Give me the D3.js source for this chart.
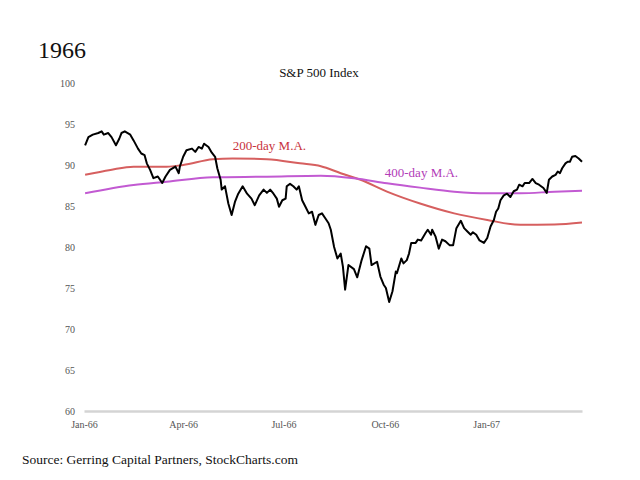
<!DOCTYPE html>
<html>
<head>
<meta charset="utf-8">
<script src="https://cdn.jsdelivr.net/npm/d3@7"></script>
<style>
  body { margin: 0; background: #fff; }
  text { font-family: "Liberation Serif", "DejaVu Serif", serif; }
</style>
</head>
<body>
<div id="chart"></div>
<script>
// S&P 500 daily close
var priceDates = ["1966-01-02","1966-01-05","1966-01-09","1966-01-14","1966-01-17","1966-01-19","1966-01-23","1966-01-26","1966-01-30",
  "1966-02-02","1966-02-04","1966-02-07","1966-02-12","1966-02-15","1966-02-19","1966-02-22","1966-02-25","1966-02-27",
  "1966-03-02","1966-03-05","1966-03-09","1966-03-13","1966-03-16","1966-03-20","1966-03-25","1966-03-28","1966-03-29",
  "1966-04-01","1966-04-04","1966-04-09","1966-04-12","1966-04-15","1966-04-18","1966-04-20","1966-04-24","1966-04-27","1966-04-30",
  "1966-05-02","1966-05-05","1966-05-06","1966-05-09","1966-05-12","1966-05-15","1966-05-18","1966-05-21","1966-05-25","1966-05-29",
  "1966-06-02","1966-06-05","1966-06-09","1966-06-13","1966-06-16","1966-06-19","1966-06-22","1966-06-25","1966-06-27","1966-06-30",
  "1966-07-03","1966-07-04","1966-07-07","1966-07-10","1966-07-13","1966-07-15","1966-07-18","1966-07-21","1966-07-24","1966-07-27","1966-07-30",
  "1966-08-02","1966-08-05","1966-08-08","1966-08-11","1966-08-13","1966-08-16","1966-08-19","1966-08-22","1966-08-24","1966-08-26","1966-08-29",
  "1966-09-03","1966-09-06","1966-09-10","1966-09-14","1966-09-17","1966-09-19","1966-09-24","1966-09-27","1966-09-30",
  "1966-10-02","1966-10-05","1966-10-08","1966-10-11","1966-10-12","1966-10-16","1966-10-18","1966-10-21","1966-10-23","1966-10-25","1966-10-29","1966-10-31",
  "1966-11-03","1966-11-07","1966-11-09","1966-11-12","1966-11-13","1966-11-16","1966-11-19","1966-11-22","1966-11-25","1966-11-29",
  "1966-12-02","1966-12-05","1966-12-09","1966-12-12","1966-12-15","1966-12-18","1966-12-20","1966-12-23","1966-12-26","1966-12-30",
  "1967-01-02","1967-01-05","1967-01-08","1967-01-10","1967-01-12","1967-01-14","1967-01-17","1967-01-20","1967-01-23","1967-01-26","1967-01-29","1967-01-31",
  "1967-02-03","1967-02-05","1967-02-09","1967-02-12","1967-02-15","1967-02-18","1967-02-22","1967-02-25","1967-02-27",
  "1967-03-02","1967-03-05","1967-03-07","1967-03-09","1967-03-11","1967-03-14","1967-03-16","1967-03-18","1967-03-20","1967-03-23","1967-03-26","1967-03-29"];
var priceValues = [92.4,93.4,93.7,93.9,94.1,93.7,93.9,93.4,92.4,
  93.2,93.9,94.1,93.7,93.0,92.0,91.4,91.2,90.2,
  89.4,88.4,88.6,87.8,88.6,89.4,89.8,89.0,89.8,
  91.0,91.8,92.0,91.6,92.2,92.0,92.6,92.2,91.5,91.0,
  89.6,88.2,87.0,87.4,85.3,83.9,85.5,86.5,87.4,86.5,
  85.9,85.1,86.3,87.0,86.6,87.0,86.5,85.9,84.9,85.7,
  85.9,87.4,87.7,87.4,87.0,87.4,85.7,84.9,84.1,84.3,82.7,
  83.9,84.1,83.5,82.9,82.1,80.0,78.6,79.2,77.6,74.8,77.8,
  77.3,76.3,78.4,80.1,79.8,77.8,78.2,76.4,75.4,
  75.0,73.3,74.6,77.0,76.8,78.6,78.0,78.4,79.2,80.5,80.5,80.9,
  80.8,81.7,82.1,81.5,82.1,81.3,79.8,80.9,80.7,80.2,
  80.2,82.3,83.2,82.3,81.9,81.5,81.8,81.5,80.8,80.5,
  81.1,82.5,83.3,84.3,84.7,85.7,86.3,86.5,86.1,86.8,87.0,87.6,
  87.4,87.8,87.8,88.3,87.8,87.6,87.2,86.6,88.2,
  88.6,88.8,89.2,89.0,89.6,90.2,90.4,90.4,91.0,91.1,90.8,90.4];

// 200-day moving average
var ma200Dates = ["1966-01-02","1966-01-25","1966-02-15","1966-03-17","1966-04-01","1966-04-28","1966-05-16","1966-06-16","1966-07-16",
  "1966-08-04","1966-08-22","1966-09-09","1966-10-03","1966-11-02","1966-12-03","1967-01-02","1967-02-01","1967-03-04","1967-03-29"];
var ma200Values = [88.8,89.4,89.8,89.8,90.0,90.7,90.8,90.7,90.2,
  89.85,89.0,88.2,86.75,85.3,84.1,83.3,82.7,82.75,83.0];

// 400-day moving average
var ma400Dates = ["1966-01-02","1966-02-15","1966-03-17","1966-04-28","1966-06-16","1966-08-04","1966-09-03",
  "1966-10-03","1966-11-02","1966-12-03","1967-01-02","1967-02-01","1967-03-04","1967-03-29"];
var ma400Values = [86.55,87.55,87.95,88.5,88.57,88.68,88.38,
  87.77,87.24,86.75,86.55,86.55,86.75,86.87];

var yTicks = [60, 65, 70, 75, 80, 85, 90, 95, 100];

var width = 640, height = 480;
var parse = d3.timeParse("%Y-%m-%d");

function toPoints(dates, values) {
    return dates.map(function (d, i) { return {date: parse(d), value: values[i]}; });
}
var price = toPoints(priceDates, priceValues);
var ma200 = toPoints(ma200Dates, ma200Values);
var ma400 = toPoints(ma400Dates, ma400Values);

var svg = d3.select("#chart").append("svg")
    .attr("width", width)
    .attr("height", height);

var x = d3.scaleTime()
    .domain([parse("1966-01-01"), parse("1967-03-29")])
    .range([84, 582]);

var y = d3.scaleLinear()
    .domain([60, 100])
    .range([411, 83]);

// big year label + chart title
svg.append("text")
    .attr("x", 38).attr("y", 58)
    .style("font-size", "24px")
    .attr("fill", "#111")
    .text("1966");

svg.append("text")
    .attr("x", 319).attr("y", 77)
    .attr("text-anchor", "middle")
    .style("font-size", "13px")
    .attr("fill", "#111")
    .text("S&P 500 Index");

// y axis: labels only
var yAxis = svg.append("g")
    .attr("transform", "translate(75,0)")
    .call(d3.axisLeft(y).tickValues(yTicks).tickSize(0).tickPadding(0));
yAxis.select(".domain").remove();
yAxis.selectAll("text")
    .style("font-family", "'Liberation Serif', serif")
    .style("font-size", "10px")
    .attr("fill", "#555");

// x axis: light baseline, labels centred on quarters
var xAxis = svg.append("g")
    .attr("transform", "translate(0,411)")
    .call(d3.axisBottom(x).ticks(d3.timeMonth.every(3)).tickFormat(d3.timeFormat("%b-%y")).tickSize(0).tickPadding(10));
xAxis.select(".domain")
    .attr("stroke", "#d4d4d4")
    .attr("stroke-width", 2.5);
xAxis.selectAll("text")
    .style("font-family", "'Liberation Serif', serif")
    .style("font-size", "10px")
    .attr("fill", "#555");

// moving averages
var smooth = d3.line()
    .x(function (d) { return x(d.date); })
    .y(function (d) { return y(d.value); })
    .curve(d3.curveMonotoneX);

svg.append("path")
    .datum(ma200)
    .attr("d", smooth)
    .attr("fill", "none")
    .attr("stroke", "#d65f5f")
    .attr("stroke-width", 2);

svg.append("path")
    .datum(ma400)
    .attr("d", smooth)
    .attr("fill", "none")
    .attr("stroke", "#c25ad2")
    .attr("stroke-width", 2);

// index line
var jagged = d3.line()
    .x(function (d) { return x(d.date); })
    .y(function (d) { return y(d.value); });

svg.append("path")
    .datum(price)
    .attr("d", jagged)
    .attr("fill", "none")
    .attr("stroke", "#000")
    .attr("stroke-width", 2)
    .attr("stroke-linejoin", "round");

// series labels
svg.append("text")
    .attr("x", x(parse("1966-05-16"))).attr("y", 150)
    .style("font-size", "13px")
    .attr("fill", "#c8323c")
    .text("200-day M.A.");

svg.append("text")
    .attr("x", x(parse("1966-10-01"))).attr("y", 177)
    .style("font-size", "13px")
    .attr("fill", "#b23cb8")
    .text("400-day M.A.");

// source note
svg.append("text")
    .attr("x", 22).attr("y", 464)
    .style("font-size", "13.5px")
    .attr("fill", "#111")
    .text("Source: Gerring Capital Partners, StockCharts.com");
</script>
</body>
</html>
